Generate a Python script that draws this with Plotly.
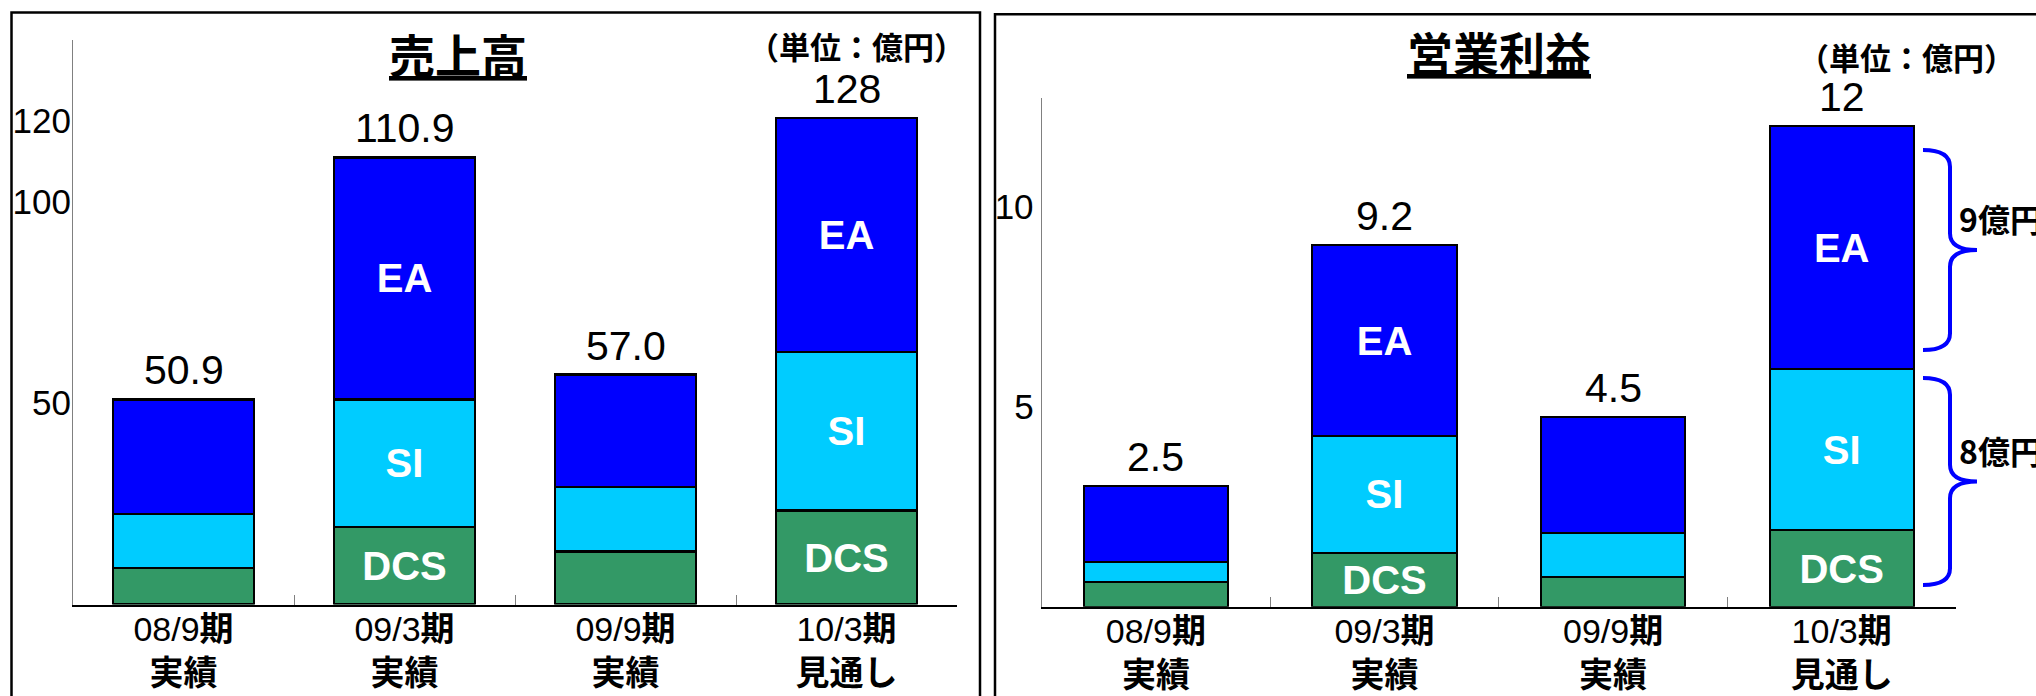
import plotly.graph_objects as go

# ---------------- data ----------------
periods = ["08/9期", "09/3期", "09/9期", "10/3期"]
period_kind = ["実績", "実績", "実績", "見通し"]

# 売上高 (億円) - segment values
sales_dcs = [9.0, 19.2, 13.2, 23.3]
sales_si = [13.5, 31.7, 15.9, 39.3]
sales_ea = [28.4, 60.0, 27.9, 58.1]
sales_total_labels = ["50.9", "110.9", "57.0", "128"]
sales_ticks = [50, 100, 120]

# 営業利益 (億円)
profit_dcs = [0.63, 1.35, 0.74, 1.91]
profit_si = [0.50, 2.92, 1.11, 4.03]
profit_ea = [1.89, 4.77, 2.89, 6.08]
profit_total_labels = ["2.5", "9.2", "4.5", "12"]
profit_ticks = [5, 10]

seg_names = ["DCS", "SI", "EA"]
seg_text = {"DCS": ["", "DCS", "", "DCS"], "SI": ["", "SI", "", "SI"], "EA": ["", "EA", "", "EA"]}
brace_labels = ["9億円", "8億円"]
unit_text = "（単位：億円）"

# ---------------- style ----------------
W, H = 2036, 696
COLORS = {"DCS": "#339966", "SI": "#00CCFF", "EA": "#0000FF"}
CJK = "Noto Sans CJK JP"
NUM = "Liberation Sans, Arial, Noto Sans CJK JP, sans-serif"
SANS = "Liberation Sans, Arial, sans-serif"

def px_x(p):
    return p / W

def px_y(p):
    return 1 - p / H

ticktext = [f"{p[:-1]}<b>{p[-1]}</b><br><b>{k}</b>" for p, k in zip(periods, period_kind)]

fig = go.Figure()

panels = [
    ("x", "y", [sales_dcs, sales_si, sales_ea], sales_total_labels, 2.5, 0.64),
    ("x2", "y2", [profit_dcs, profit_si, profit_ea], profit_total_labels, 2.0, 0.63),
]

for xa, ya, segs, tot_labels, lw, bw in panels:
    for name, vals in zip(seg_names, segs):
        fig.add_trace(go.Bar(
            x=periods, y=vals, name=name, xaxis=xa, yaxis=ya, width=bw,
            marker=dict(color=COLORS[name], line=dict(color="black", width=lw)),
            text=seg_text[name], textposition="inside", insidetextanchor="middle",
            textangle=0, constraintext="none",
            textfont=dict(family=SANS, size=40, color="white", weight=700),
            showlegend=False, hoverinfo="skip",
        ))
    totals = [sum(v) for v in zip(*segs)]
    for p, t, lab in zip(periods, totals, tot_labels):
        fig.add_annotation(x=p, y=t, xref=xa, yref=ya, text=lab, showarrow=False,
                           xanchor="center", yanchor="bottom", yshift=4,
                           font=dict(family=NUM, size=41, color="black"))

axis_common = dict(showgrid=False, zeroline=False, fixedrange=True, automargin=False)
xaxis_common = dict(type="category", showline=True, linecolor="black", linewidth=1.5,
                    ticks="inside", tickson="boundaries", ticklen=10, tickcolor="#808080",
                    tickwidth=1, tickvals=periods, ticktext=ticktext, ticklabelstandoff=-6,
                    tickfont=dict(family=NUM, size=34, color="black"), **axis_common)
yaxis_common = dict(showline=True, linecolor="#808080", linewidth=1, ticks="",
                    tickfont=dict(family=SANS, size=35, color="black"), **axis_common)

fig.update_layout(
    template="none",
    width=W, height=H, margin=dict(l=0, r=0, t=0, b=0, pad=0),
    paper_bgcolor="white", plot_bgcolor="white", barmode="stack", showlegend=False,
    xaxis=dict(domain=[px_x(73), px_x(957)], anchor="y", **xaxis_common),
    yaxis=dict(domain=[px_y(604.5), px_y(40)], anchor="x", range=[0, 140],
               tickvals=sales_ticks, ticklabelstandoff=-6, **yaxis_common),
    xaxis2=dict(domain=[px_x(1041.6), px_x(1956)], anchor="y2", **xaxis_common),
    yaxis2=dict(domain=[px_y(606.7), px_y(97.6)], anchor="x2", range=[0, 12.73],
                tickvals=profit_ticks, ticklabelstandoff=0, **yaxis_common),
)

# panel frames
fig.add_shape(type="rect", xref="paper", yref="paper", x0=px_x(11.5), x1=px_x(980),
              y0=-0.1, y1=px_y(12.4), line=dict(color="black", width=2.5), layer="below")
fig.add_shape(type="rect", xref="paper", yref="paper", x0=px_x(995), x1=1.05,
              y0=-0.1, y1=px_y(14.2), line=dict(color="black", width=2.5), layer="below")

# titles and units
title_font = dict(family=CJK, size=46, color="black", weight=700)
fig.add_annotation(xref="paper", yref="paper", x=px_x(458), y=px_y(53), text="<u>売上高</u>",
                   showarrow=False, xanchor="center", yanchor="middle", font=title_font)
fig.add_annotation(xref="paper", yref="paper", x=px_x(1499), y=px_y(51), text="<u>営業利益</u>",
                   showarrow=False, xanchor="center", yanchor="middle", font=title_font)
unit_font = dict(family=CJK, size=31, color="black", weight=700)
fig.add_annotation(xref="paper", yref="paper", x=px_x(856.5), y=px_y(45), text=unit_text,
                   showarrow=False, xanchor="center", yanchor="middle", font=unit_font)
fig.add_annotation(xref="paper", yref="paper", x=px_x(1906.7), y=px_y(56), text=unit_text,
                   showarrow=False, xanchor="center", yanchor="middle", font=unit_font)

# braces beside the 10/3期 profit bar
si_top = profit_dcs[-1] + profit_si[-1]
top_total = si_top + profit_ea[-1]
brace_spans = [(si_top + 0.48, top_total - 0.6), (0.54, si_top - 0.22)]
xe, xs, xt = px_x(1923), px_x(1950), px_x(1977)
r = 0.42
for (lo, hi), lab in zip(brace_spans, brace_labels):
    mid = (lo + hi) / 2
    path = (f"M {xe},{hi} Q {xs},{hi} {xs},{hi - r} L {xs},{mid + r} "
            f"Q {xs},{mid} {xt},{mid} Q {xs},{mid} {xs},{mid - r} "
            f"L {xs},{lo + r} Q {xs},{lo} {xe},{lo}")
    fig.add_shape(type="path", path=path, xref="paper", yref="y2",
                  line=dict(color="#0000FF", width=4))
    fig.add_annotation(xref="paper", yref="y2", x=px_x(1957), y=mid, yshift=32,
                       text=lab, showarrow=False, xanchor="left", yanchor="middle",
                       font=dict(family=CJK, size=32, color="black", weight=700))

fig.write_html("out.html", config={"displayModeBar": False},
               post_script="document.body.style.margin='0';")
